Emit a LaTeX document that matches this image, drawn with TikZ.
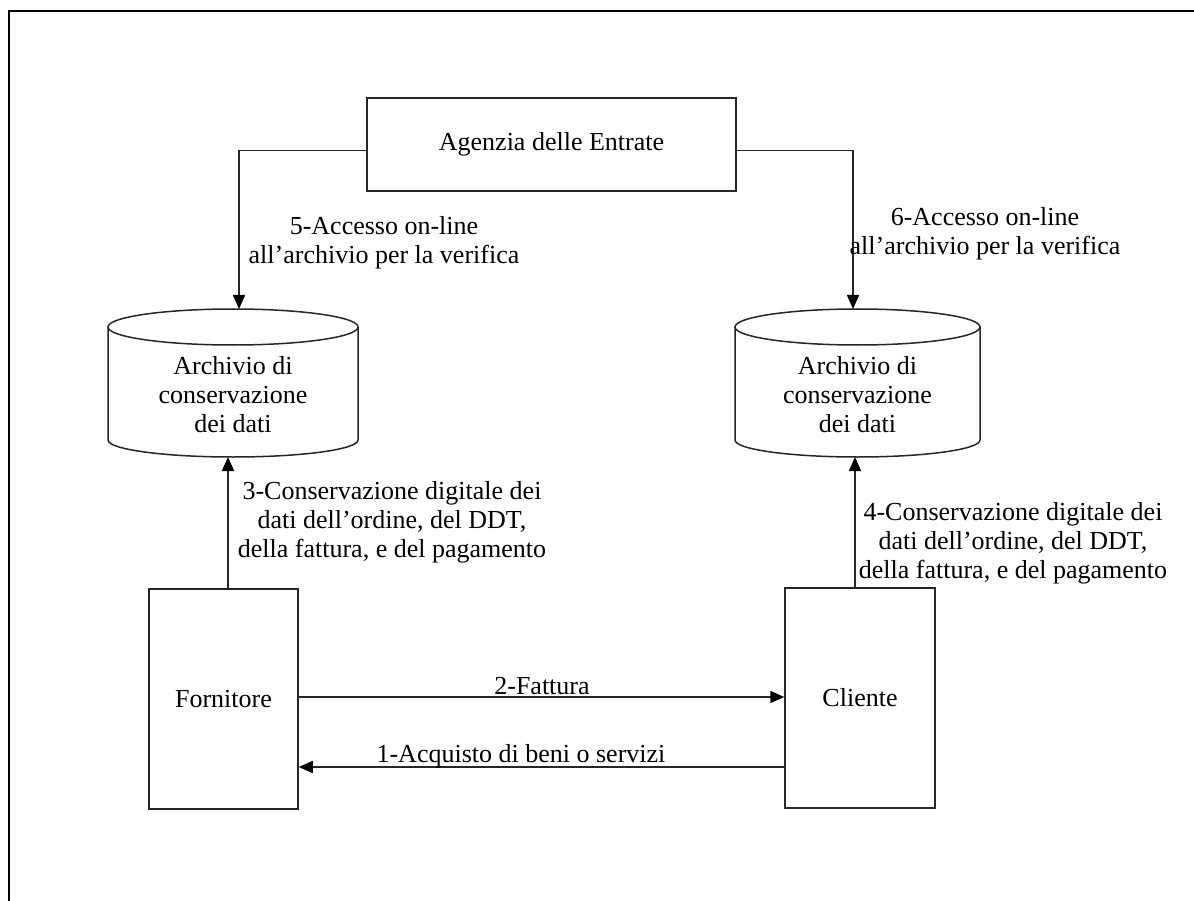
\documentclass[tikz,border=0pt]{standalone}
\usepackage{fontspec}
\setmainfont{Liberation Serif}
\usetikzlibrary{arrows.meta,positioning}
\begin{document}
\begin{tikzpicture}[x=1pt,y=1pt,
  every node/.style={font=\fontsize{26}{29}\selectfont},
  conn/.style={line width=1.5pt,draw=black!85,-{Triangle[length=14pt,width=12pt,color=black]}},
  boxn/.style={draw=black!85,line width=1.5pt,inner sep=0pt},
  cyl/.style={line width=1.5pt,draw=black!85},
  lbl/.style={align=center,inner sep=0pt}]
\useasboundingbox (0,0) rectangle (1194,-901);
\fill[white] (0,0) rectangle (1194,-901);
% frame
\draw[line width=2.4pt] (9,-901) -- (9,-11) -- (1194,-11);
% Agenzia
\node[boxn,minimum width=369pt,minimum height=93pt] (ag) at (551.5,-144.5) {Agenzia delle Entrate};
% cylinders
\draw[cyl] (108,-327) -- (108,-440) arc (180:360:125 and 17) -- (358,-327);
\draw[cyl] (233,-327) ellipse (125 and 18);
\node[lbl] (cyl1) at (233,-395) {Archivio di\\conservazione\\dei dati};
\coordinate (c1top) at (239,-309);
\coordinate (c1bot) at (228,-457);
\draw[cyl] (735,-327) -- (735,-440) arc (180:360:122.5 and 17) -- (980,-327);
\draw[cyl] (857.5,-327) ellipse (122.5 and 18);
\node[lbl] (cyl2) at (857.5,-395) {Archivio di\\conservazione\\dei dati};
\coordinate (c2top) at (853,-309);
\coordinate (c2bot) at (855,-457);
% boxes
\node[boxn,minimum width=149pt,minimum height=220pt] (forn) at (223.5,-699) {Fornitore};
\node[boxn,minimum width=150pt,minimum height=220pt] (cli) at (860,-698) {Cliente};
% connectors
\draw[conn] ([yshift=-6pt]ag.west) -| (c1top);
\draw[conn] ([yshift=-6pt]ag.east) -| (c2top);
\draw[conn] (forn.north -| c1bot) -- (c1bot);
\draw[conn] (cli.north -| c2bot) -- (c2bot);
\draw[conn] ([yshift=2pt]forn.east) -- ([yshift=2pt]forn.east -| cli.west);
\draw[conn] ([yshift=-68pt]forn.east -| cli.west) -- ([yshift=-68pt]forn.east);
% labels
\node[lbl] (l5) at (384,-243) {5-Accesso on-line\\all'archivio per la verifica};
\node[lbl] (l6) at (985,-234) {6-Accesso on-line\\all'archivio per la verifica};
\node[lbl] (l3) at (392,-522) {3-Conservazione digitale dei\\dati dell'ordine, del DDT,\\della fattura, e del pagamento};
\node[lbl] (l4) at (1013,-543) {4-Conservazione digitale dei\\dati dell'ordine, del DDT,\\della fattura, e del pagamento};
\node[lbl] (l2) at (542,-686) {2-Fattura};
\node[lbl] (l1) at (521,-756) {1-Acquisto di beni o servizi};
\end{tikzpicture}
\end{document}
